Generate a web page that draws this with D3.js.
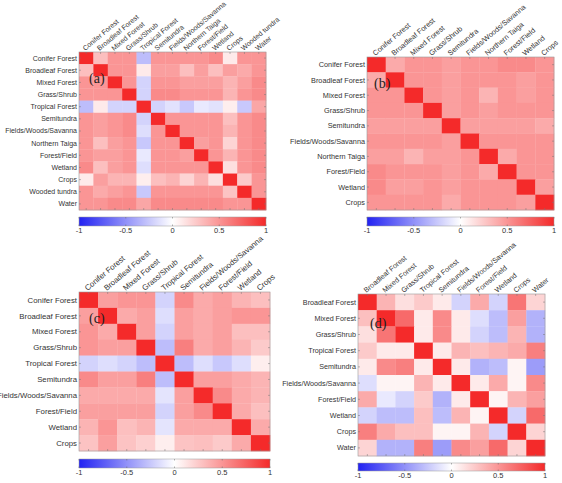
<!DOCTYPE html>
<html><head><meta charset="utf-8">
<script src="https://cdn.jsdelivr.net/npm/d3@7"></script>
<style>body{margin:0;background:#fff}svg{display:block}</style>
</head><body>
<svg id="c" width="562" height="483"></svg>
<script>
const labelsA = ["Conifer Forest","Broadleaf Forest","Mixed Forest","Grass/Shrub","Tropical Forest","Semitundra","Fields/Woods/Savanna","Northern Taiga","Forest/Field","Wetland","Crops","Wooded tundra","Water"];
const valuesA = [
 [1,0.3,0.5,0.5,-0.3,0.5,0.5,0.5,0.5,0.55,0.1,0.5,0.5],
 [0.3,1,0.5,0.5,0.1,0.45,0.45,0.3,0.45,0.3,0.45,0.4,0.5],
 [0.5,0.5,1,0.5,-0.2,0.5,0.5,0.45,0.45,0.45,0.35,0.45,0.55],
 [0.5,0.5,0.5,1,-0.2,0.55,0.55,0.5,0.5,0.5,0.35,0.5,0.55],
 [-0.3,0.1,-0.2,-0.2,1,-0.2,-0.13,-0.25,-0.1,-0.13,0.08,-0.25,0.42],
 [0.5,0.45,0.5,0.55,-0.2,1,0.5,0.5,0.5,0.5,0.3,0.5,0.55],
 [0.5,0.45,0.5,0.55,-0.15,0.5,1,0.5,0.5,0.5,0.35,0.5,0.55],
 [0.5,0.3,0.45,0.5,-0.25,0.5,0.5,1,0.45,0.5,0.2,0.5,0.55],
 [0.5,0.45,0.45,0.5,-0.1,0.5,0.5,0.45,1,0.5,0.35,0.5,0.55],
 [0.55,0.3,0.45,0.5,-0.15,0.5,0.5,0.5,0.5,1,0.15,0.5,0.55],
 [0.1,0.45,0.35,0.35,0.08,0.3,0.35,0.2,0.35,0.15,1,0.25,0.5],
 [0.5,0.4,0.45,0.5,-0.25,0.5,0.5,0.5,0.5,0.5,0.28,1,0.5],
 [0.5,0.5,0.55,0.55,0.42,0.55,0.55,0.55,0.55,0.55,0.5,0.5,1]
];
const labelsB = ["Conifer Forest","Broadleaf Forest","Mixed Forest","Grass/Shrub","Semitundra","Fields/Woods/Savanna","Northern Taiga","Forest/Field","Wetland","Crops"];
const valuesB = [
 [1,0.4,0.5,0.5,0.45,0.5,0.5,0.55,0.55,0.5],
 [0.4,1,0.5,0.5,0.45,0.5,0.5,0.5,0.45,0.5],
 [0.5,0.5,1,0.5,0.45,0.5,0.35,0.5,0.45,0.5],
 [0.5,0.5,0.5,1,0.45,0.5,0.45,0.5,0.5,0.5],
 [0.45,0.45,0.45,0.45,1,0.45,0.45,0.45,0.45,0.4],
 [0.5,0.5,0.5,0.5,0.45,1,0.5,0.5,0.5,0.5],
 [0.45,0.45,0.35,0.45,0.45,0.5,1,0.4,0.5,0.5],
 [0.55,0.5,0.5,0.5,0.45,0.5,0.4,1,0.5,0.5],
 [0.55,0.45,0.45,0.5,0.45,0.5,0.5,0.5,1,0.45],
 [0.5,0.5,0.5,0.5,0.4,0.5,0.5,0.5,0.45,1]
];
const labelsC = ["Conifer Forest","Broadleaf Forest","Mixed Forest","Grass/Shrub","Tropical Forest","Semitundra","Fields/Woods/Savanna","Forest/Field","Wetland","Crops"];
const valuesC = [
 [1,0.45,0.5,0.5,-0.2,0.55,0.4,0.45,0.35,0.3],
 [0.45,1,0.4,0.45,-0.15,0.45,0.4,0.45,0.5,0.5],
 [0.5,0.4,1,0.45,-0.2,0.45,0.4,0.45,0.3,0.3],
 [0.5,0.45,0.45,1,-0.3,0.6,0.4,0.45,0.35,0.25],
 [-0.2,-0.15,-0.2,-0.3,1,-0.3,-0.15,-0.25,-0.15,0.08],
 [0.55,0.45,0.45,0.6,-0.3,1,0.45,0.45,0.4,0.35],
 [0.4,0.4,0.4,0.4,-0.12,0.45,1,0.55,0.4,0.35],
 [0.45,0.45,0.45,0.45,-0.2,0.45,0.55,1,0.4,0.3],
 [0.35,0.5,0.3,0.35,-0.12,0.4,0.4,0.4,1,0.4],
 [0.28,0.45,0.28,0.22,0.08,0.28,0.3,0.25,0.4,1]
];
const labelsD = ["Broadleaf Forest","Mixed Forest","Grass/Shrub","Tropical Forest","Semitundra","Fields/Woods/Savanna","Forest/Field","Wetland","Crops","Water"];
const valuesD = [
 [1,0.35,0.15,0.25,0.1,-0.2,0.4,-0.2,0.65,0.2],
 [0.3,1,0.7,0.1,0.55,0.1,-0.15,-0.3,0.45,-0.35],
 [0.15,0.65,1,0.1,0.55,0.1,-0.2,-0.3,0.35,-0.35],
 [0.25,0.1,0.1,1,0.1,0.35,0.3,0.35,0.4,0.6],
 [0.1,0.55,0.6,0.1,1,0.1,-0.35,-0.3,0.05,-0.45],
 [-0.15,0.05,0.05,0.35,0.1,1,0.1,0.4,0.05,0.55],
 [0.4,-0.1,-0.2,0.25,-0.35,0.1,1,0.05,0.35,0.45],
 [-0.2,-0.3,-0.3,0.3,-0.3,0.35,0.05,1,-0.2,0.7],
 [0.6,0.4,0.3,0.3,0.05,0.05,0.35,-0.2,1,0.2],
 [0.2,-0.35,-0.35,0.6,-0.45,0.55,0.45,0.7,0.2,1]
];
const colorbarTicks = [-1,-0.5,0,0.5,1];
const panelLetters = ["(a)","(b)","(c)","(d)"];

const color = d3.scaleLinear().domain([-1,0,1]).range(["#2222f2","#ffffff","#f42a2a"]);
const svg = d3.select("#c");

// gradient
const grad = svg.append("defs").append("linearGradient").attr("id","cbar");
d3.range(0,21).forEach(i=>{
  const v = -1 + i*0.1;
  grad.append("stop").attr("offset",(i*5)+"%").attr("stop-color",color(v));
});

const FONT = "Liberation Sans, Arial, sans-serif";

function panel(labels, values, letter, o){
  const g = svg.append("g");
  const n = labels.length;
  const x = d3.scaleBand().domain(d3.range(n)).range([o.x0,o.x1]);
  const y = d3.scaleBand().domain(d3.range(n)).range([o.y0,o.y1]);
  const cells = [];
  values.forEach((row,i)=>row.forEach((v,j)=>cells.push({i,j,v})));
  g.selectAll("rect.cell").data(cells).enter().append("rect")
    .attr("x",d=>x(d.j)).attr("y",d=>y(d.i))
    .attr("width",x.bandwidth()+0.3).attr("height",y.bandwidth()+0.3)
    .attr("fill",d=>color(d.v));
  g.append("rect").attr("x",o.x0).attr("y",o.y0).attr("width",o.x1-o.x0).attr("height",o.y1-o.y0)
    .attr("fill","none").attr("stroke","#9a9a9a").attr("stroke-width",0.6);
  // ticks
  labels.forEach((l,k)=>{
    const cx = x(k)+x.bandwidth()/2, cy = y(k)+y.bandwidth()/2;
    g.append("line").attr("x1",o.x0).attr("x2",o.x0+2).attr("y1",cy).attr("y2",cy).attr("stroke","#777").attr("stroke-width",0.5);
    g.append("line").attr("x1",o.x1).attr("x2",o.x1-2).attr("y1",cy).attr("y2",cy).attr("stroke","#777").attr("stroke-width",0.5);
    g.append("line").attr("x1",cx).attr("x2",cx).attr("y1",o.y0).attr("y2",o.y0+2).attr("stroke","#777").attr("stroke-width",0.5);
    g.append("line").attr("x1",cx).attr("x2",cx).attr("y1",o.y1).attr("y2",o.y1-2).attr("stroke","#777").attr("stroke-width",0.5);
  });
  g.selectAll("text.row").data(labels).enter().append("text")
    .attr("x",o.x0-2).attr("y",(d,k)=>y(k)+y.bandwidth()/2)
    .attr("dy","0.35em").attr("text-anchor","end")
    .style("font-family",FONT).style("font-size",o.fs+"px").attr("fill","#333").text(d=>d);
  g.selectAll("text.col").data(labels).enter().append("text")
    .attr("transform",(d,k)=>`translate(${x(k)+x.bandwidth()/2-1},${o.y0-1}) rotate(-40)`)
    .attr("text-anchor","start")
    .style("font-family",FONT).style("font-size",o.fs+"px").attr("fill","#333").text(d=>d);
  // letter
  g.append("text").attr("x",o.lx).attr("y",o.ly)
    .style("font-family","Liberation Serif, Times New Roman, serif").style("font-size","14px").attr("fill","#222").text(letter);
  // colorbar
  const cs = d3.scaleLinear().domain([-1,1]).range([o.x0,o.x1]);
  g.append("rect").attr("x",o.x0).attr("y",o.cy).attr("width",o.x1-o.x0).attr("height",o.ch)
    .attr("fill","url(#cbar)").attr("stroke","#9a9a9a").attr("stroke-width",0.5);
  colorbarTicks.forEach(t=>{
    g.append("line").attr("x1",cs(t)).attr("x2",cs(t)).attr("y1",o.cy).attr("y2",o.cy+1.5).attr("stroke","#666").attr("stroke-width",0.5);
    g.append("line").attr("x1",cs(t)).attr("x2",cs(t)).attr("y1",o.cy+o.ch).attr("y2",o.cy+o.ch-1.5).attr("stroke","#666").attr("stroke-width",0.5);
  });
  g.selectAll("text.cb").data(colorbarTicks).enter().append("text")
    .attr("x",d=>cs(d)).attr("y",o.cy+o.ch+7).attr("text-anchor","middle")
    .style("font-family",FONT).style("font-size","7.5px").attr("fill","#333").text(d=>d);
}

panel(labelsA, valuesA, panelLetters[0], {x0:79,x1:266,y0:52,y1:210,fs:7,lx:89,ly:83,cy:217,ch:9});
panel(labelsB, valuesB, panelLetters[1], {x0:367,x1:554,y0:57,y1:210,fs:7.3,lx:374,ly:88,cy:217,ch:9});
panel(labelsC, valuesC, panelLetters[2], {x0:79,x1:270,y0:292,y1:451,fs:7.8,lx:89,ly:323,cy:459,ch:9});
panel(labelsD, valuesD, panelLetters[3], {x0:358,x1:545,y0:294,y1:456,fs:7.2,lx:370,ly:328,cy:463,ch:8});
</script>
</body></html>
